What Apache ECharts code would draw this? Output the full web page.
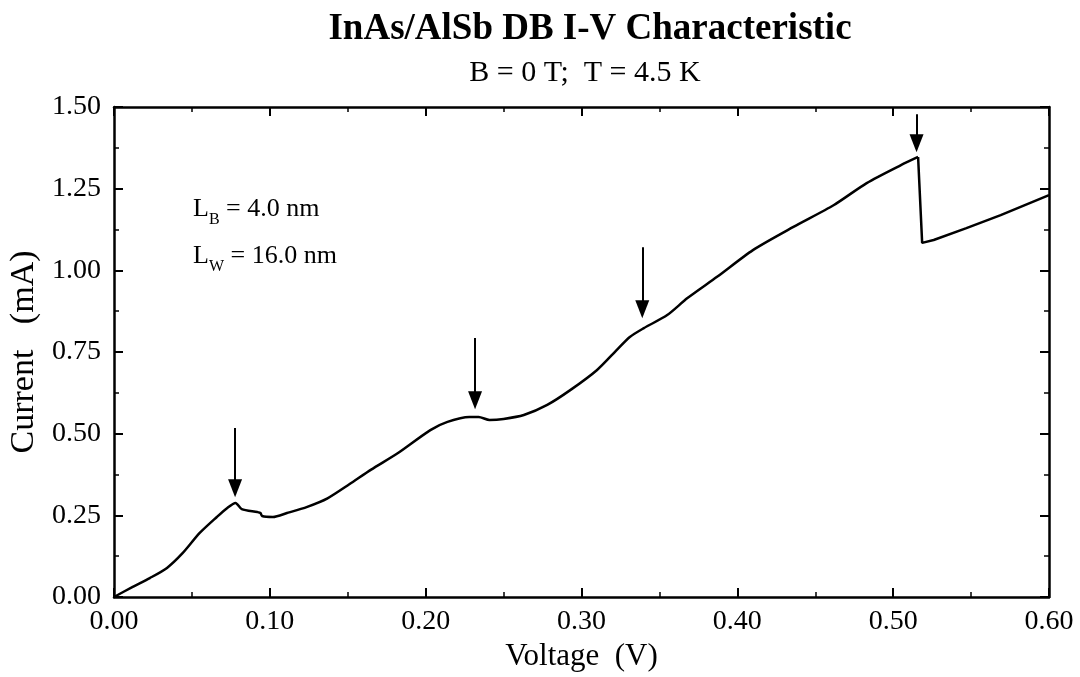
<!DOCTYPE html>
<html>
<head>
<meta charset="utf-8">
<script src="https://cdn.jsdelivr.net/npm/echarts@6/dist/echarts.min.js"></script>
<style>
  html, body { margin: 0; padding: 0; background: #fff; }
  #chart { width: 1080px; height: 677px; }
</style>
</head>
<body>
<div id="chart"></div>
<script>
// InAs/AlSb double barrier I-V curve, B = 0 T, T = 4.5 K
const voltage = [0.000, 0.012, 0.023, 0.034, 0.044, 0.055, 0.066, 0.0725, 0.078, 0.082,
  0.092, 0.094, 0.095, 0.102, 0.111, 0.124, 0.137, 0.151, 0.165, 0.182,
  0.203, 0.214, 0.228, 0.234, 0.241, 0.250, 0.263, 0.278, 0.293, 0.310,
  0.323, 0.331, 0.340, 0.355, 0.368, 0.387, 0.410, 0.436, 0.462, 0.483,
  0.505, 0.516, 0.5186, 0.526, 0.547, 0.569, 0.600];
const current = [0.000, 0.031, 0.058, 0.089, 0.134, 0.196, 0.245, 0.272, 0.288, 0.269,
  0.260, 0.257, 0.248, 0.245, 0.257, 0.276, 0.302, 0.345, 0.390, 0.440,
  0.511, 0.536, 0.551, 0.551, 0.542, 0.545, 0.557, 0.588, 0.634, 0.695,
  0.758, 0.796, 0.823, 0.863, 0.915, 0.980, 1.062, 1.133, 1.200, 1.267,
  1.322, 1.347, 1.084, 1.093, 1.129, 1.169, 1.230];
const dropIndex = 41; // last point before the sharp current drop

// arrows marking the resonances
const arrowV = [0.0777, 0.2317, 0.339, 0.515];
const arrowTop = [0.517, 0.793, 1.071, 1.478];
const arrowTip = [0.306, 0.575, 0.854, 1.362];

const xTicks = [0, 0.6, 0.1];   // min, max, interval
const yTicks = [0, 1.5, 0.25];

const serif = '"Liberation Serif", "Times New Roman", serif';

const points = voltage.map((v, i) => [v, current[i]]);

const chart = echarts.init(document.getElementById('chart'));

const axisCommon = {
  axisLine: { onZero: false, lineStyle: { color: '#000', width: 2.5 } },
  axisTick: { inside: true, length: 9, lineStyle: { color: '#000', width: 2 } },
  minorTick: { show: true, splitNumber: 2, length: 5, lineStyle: { color: '#000', width: 1.5 } },
  splitLine: { show: false }
};

const richLabel = {
  a: { fontFamily: serif, fontSize: 26, fill: '#000' },
  s: { fontFamily: serif, fontSize: 16, fill: '#000', padding: [22, 0, 0, 0] }
};

chart.setOption({
  animation: false,
  backgroundColor: '#fff',
  textStyle: { fontFamily: serif, color: '#000' },
  title: [
    { text: 'InAs/AlSb DB I-V Characteristic', left: 585, top: 6, textAlign: 'center',
      textStyle: { fontFamily: serif, fontWeight: 'bold', fontSize: 37, color: '#000' } },
    { text: 'B = 0 T;  T = 4.5 K', left: 580, top: 53, textAlign: 'center',
      textStyle: { fontFamily: serif, fontWeight: 'normal', fontSize: 30, color: '#000' } }
  ],
  grid: { left: 114, right: 31, top: 107, bottom: 80, outerBoundsMode: 'none' },
  xAxis: [
    Object.assign({}, axisCommon, {
      type: 'value', min: xTicks[0], max: xTicks[1], interval: xTicks[2],
      name: 'Voltage  (V)', nameLocation: 'middle', nameGap: 34,
      nameTextStyle: { fontFamily: serif, fontSize: 31, color: '#000', verticalAlign: 'top' },
      axisLabel: { margin: 11, fontFamily: serif, fontSize: 28, color: '#000',
        formatter: v => v.toFixed(2) }
    }),
    Object.assign({}, axisCommon, {
      type: 'value', position: 'top', min: xTicks[0], max: xTicks[1], interval: xTicks[2],
      axisLabel: { show: false }
    })
  ],
  yAxis: [
    Object.assign({}, axisCommon, {
      type: 'value', min: yTicks[0], max: yTicks[1], interval: yTicks[2],
      name: 'Current   (mA)', nameLocation: 'middle', nameGap: 73,
      nameTextStyle: { fontFamily: serif, fontSize: 34, color: '#000' },
      axisLabel: { margin: 13, fontFamily: serif, fontSize: 28, color: '#000',
        formatter: v => v.toFixed(2) }
    }),
    Object.assign({}, axisCommon, {
      type: 'value', position: 'right', min: yTicks[0], max: yTicks[1], interval: yTicks[2],
      axisLabel: { show: false }
    })
  ],
  graphic: [
    { type: 'text', left: 193, top: 196,
      style: { rich: richLabel, text: '{a|L}{s|B}{a| = 4.0 nm}' } },
    { type: 'text', left: 193, top: 243,
      style: { rich: richLabel, text: '{a|L}{s|W}{a| = 16.0 nm}' } }
  ],
  series: [{
    type: 'line',
    data: points.slice(0, dropIndex + 1),
    showSymbol: false,
    smooth: 0.25,
    lineStyle: { color: '#000', width: 2.5 },
    markLine: {
      silent: true,
      symbol: ['none', 'triangle'],
      symbolSize: [14, 18],
      label: { show: false },
      lineStyle: { color: '#000', width: 2, type: 'solid' },
      data: arrowV.map((v, i) => [
        { coord: [v, arrowTop[i]] },
        { coord: [v, arrowTip[i] + 0.027] }
      ])
    }
  }, {
    type: 'line',
    data: points.slice(dropIndex),
    showSymbol: false,
    smooth: false,
    lineStyle: { color: '#000', width: 2.5 }
  }]
});
</script>
</body>
</html>
